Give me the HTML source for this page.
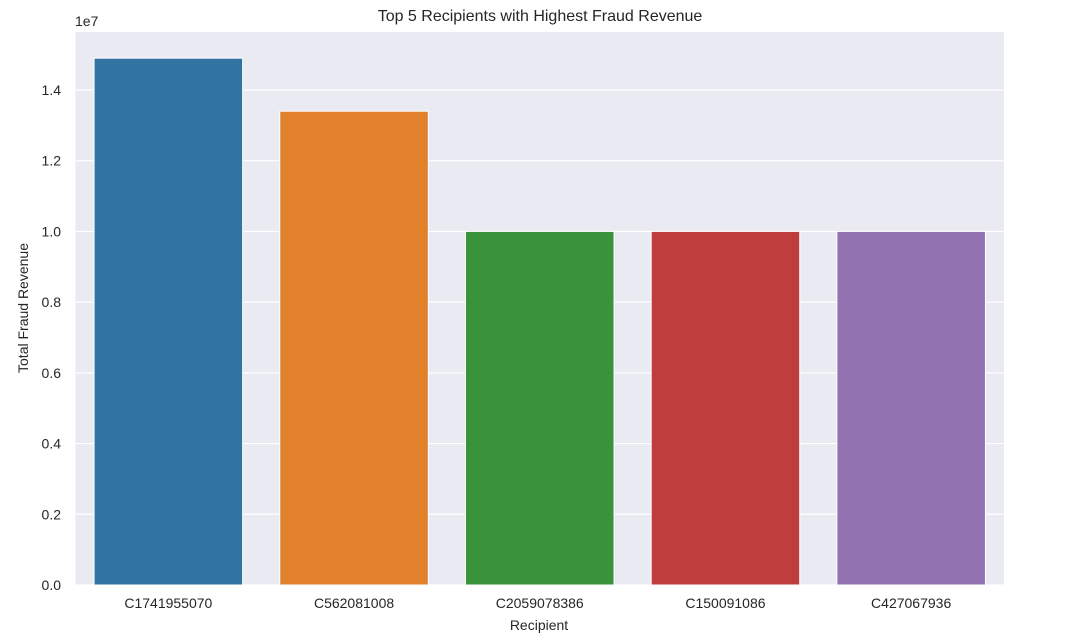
<!DOCTYPE html>
<html><head><meta charset="utf-8"><style>
body{margin:0;background:#fff;width:1068px;height:639px;overflow:hidden}
svg{font-family:"Liberation Sans","DejaVu Sans",sans-serif}
</style></head><body>
<svg id="c" width="1068" height="639"></svg>
<script>
const categories=["C1741955070","C562081008","C2059078386","C150091086","C427067936"];
const values=[14.9e6,13.4e6,10.0e6,10.0e6,10.0e6];
const colors=["#3274a1","#e1812c","#3a923a","#c03d3e","#9372b2"];
const ticks=[0,0.2,0.4,0.6,0.8,1.0,1.2,1.4];
const L=75.5,R=1004,T=32,B=585,YMAX=1.564e7;
const y=v=>B-(v/YMAX)*(B-T);
const bw=(R-L)/categories.length;
const x=i=>L+bw*i;
const svg=document.getElementById('c');
const NS="http://www.w3.org/2000/svg";
function mk(t,a,txt){const e=document.createElementNS(NS,t);for(const k in a)e.setAttribute(k,a[k]);if(txt!=null)e.textContent=txt;svg.appendChild(e);return e;}
let e=mk('rect',{x:L,y:T,width:R-L,height:B-T,fill:'#eaeaf2'});


ticks.forEach(t=>{
 const yy=y(t*1e7);
 let g=mk('line',{x1:L,x2:R,y1:yy,y2:yy,stroke:'#fff','stroke-width':1.2});
 
 
 let l=mk('text',{x:61,y:yy+5,'text-anchor':'end','font-size':14,fill:'#262626'},t.toFixed(1));
 
 
});
categories.forEach((c,i)=>{
 const x0=x(i)+bw*0.1,w=bw*0.8;
 let b=mk('rect',{x:x0,y:y(values[i]),width:w,height:B-y(values[i]),fill:colors[i],stroke:'#fff','stroke-width':1});
 
 
 let l=mk('text',{x:x(i)+bw/2,y:608,'text-anchor':'middle','font-size':14,fill:'#262626'},c);
 
 
});
e=mk('text',{x:75,y:26,'font-size':14,fill:'#262626'},'1e7');


e=mk('text',{x:540,y:21,'text-anchor':'middle','font-size':16,fill:'#262626'},'Top 5 Recipients with Highest Fraud Revenue');


e=mk('text',{x:539,y:630,'text-anchor':'middle','font-size':14,fill:'#262626'},'Recipient');


e=mk('text',{x:0,y:0,'text-anchor':'middle','font-size':14,fill:'#262626',transform:'translate(28,308) rotate(-90)'},'Total Fraud Revenue');


</script>
</body></html>
